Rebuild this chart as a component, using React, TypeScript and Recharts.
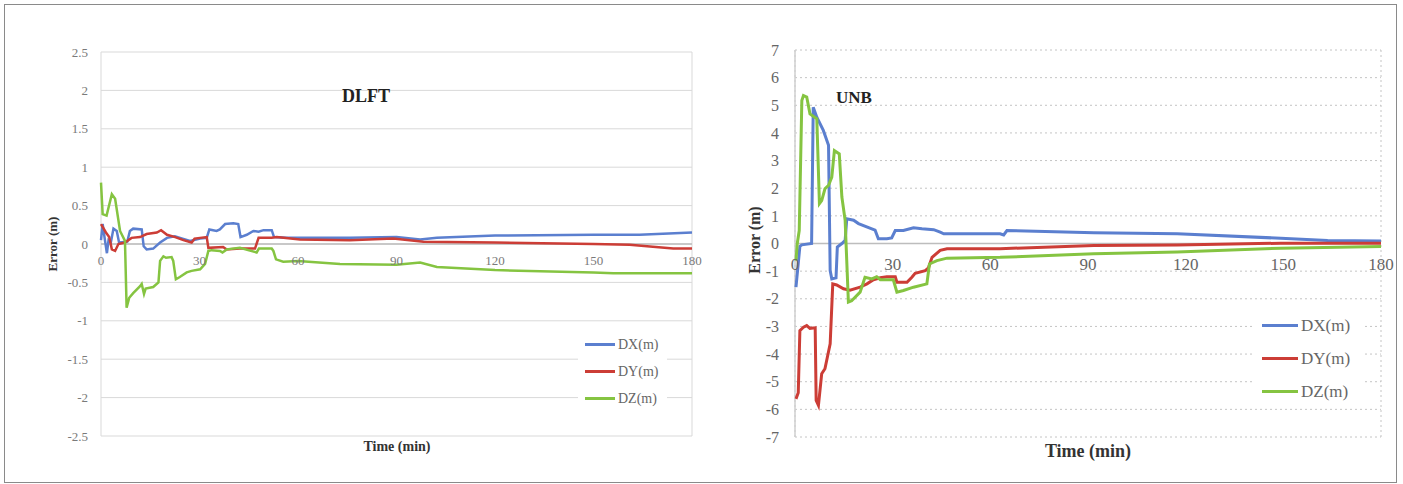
import React from 'react';
import { LineChart, Line, XAxis, YAxis, CartesianGrid, ReferenceLine, ReferenceDot, Legend } from 'recharts';

// DLFT (left panel)
const dlftTimeDX = [0, 0.5, 1.2, 1.8, 2.3, 3.0, 3.8, 4.8, 5.5, 8.0, 8.8, 9.8, 12.4, 13.0, 13.9, 15.9, 18.0, 20.1, 22.5, 24.1, 27.1, 30.2, 32.2, 33.0, 35.2, 36.2, 37.8, 40.3, 41.8, 42.5, 44.4, 46.4, 48.0, 49.5, 52.0, 52.7, 56.5, 75.8, 90, 97.2, 102.3, 120, 150, 164, 180];
const dlftDX = [0.05, 0.26, 0.05, -0.12, 0.05, 0.02, 0.2, 0.17, 0.02, 0.03, 0.17, 0.2, 0.19, -0.03, -0.07, -0.06, 0.02, 0.08, 0.1, 0.08, 0.04, 0.07, 0.08, 0.19, 0.17, 0.19, 0.26, 0.27, 0.26, 0.09, 0.12, 0.17, 0.16, 0.18, 0.18, 0.09, 0.08, 0.08, 0.09, 0.06, 0.08, 0.11, 0.12, 0.12, 0.15];
const dlftTimeDY = [0, 1.5, 2.5, 3.3, 4.3, 5.3, 7.3, 9.3, 11.9, 13.9, 17.0, 18.3, 20.1, 22.6, 25.1, 27.6, 28.5, 32.2, 32.7, 37.2, 38.2, 42.3, 46.9, 48.0, 52.0, 53.5, 60.6, 75.8, 89, 98.2, 120, 150, 161, 174.3, 180];
const dlftDY = [0.26, 0.15, 0.09, -0.07, -0.09, 0.0, 0.02, 0.08, 0.09, 0.13, 0.15, 0.18, 0.12, 0.09, 0.05, 0.02, 0.07, 0.09, -0.05, -0.04, -0.07, -0.06, -0.06, 0.08, 0.08, 0.09, 0.06, 0.05, 0.07, 0.03, 0.02, 0.0, -0.01, -0.06, -0.06];
const dlftTimeDZ = [0, 0.5, 1.7, 3.3, 4.3, 5.8, 7.3, 7.8, 8.6, 9.8, 11.9, 12.4, 13.1, 13.6, 15.9, 17.5, 18.0, 19.0, 19.8, 21.5, 22.0, 22.8, 24.0, 26.1, 27.6, 30.2, 31.7, 32.7, 33.7, 36.2, 37.0, 38.3, 42.3, 47.4, 48.1, 52.0, 52.5, 53.3, 55.5, 60, 72.8, 90, 97.2, 102.3, 120, 150, 156, 180];
const dlftDZ = [0.8, 0.39, 0.37, 0.65, 0.59, 0.17, 0.04, -0.83, -0.7, -0.64, -0.55, -0.52, -0.65, -0.58, -0.56, -0.5, -0.22, -0.16, -0.18, -0.17, -0.22, -0.46, -0.43, -0.37, -0.35, -0.33, -0.26, -0.09, -0.08, -0.09, -0.11, -0.07, -0.05, -0.11, -0.06, -0.06, -0.09, -0.2, -0.23, -0.22, -0.26, -0.27, -0.24, -0.3, -0.34, -0.37, -0.38, -0.38];

// UNB (right panel)
const unbTimeDX = [0.3, 1.5, 2.1, 5.1, 5.6, 6.7, 8.7, 10.3, 10.8, 11.3, 12.6, 13.0, 14.4, 15.4, 15.9, 18.0, 19.5, 23.6, 24.6, 25.6, 28.2, 29.7, 30.8, 33.3, 36.4, 39.0, 42.6, 44.6, 45.7, 63.0, 64.1, 65.1, 91.8, 117.4, 149.2, 163.6, 180];
const unbDX = [-1.58, -0.1, -0.05, 0.0, 4.93, 4.57, 4.09, 3.55, -0.98, -1.28, -1.24, -0.13, 0.0, 0.11, 0.89, 0.84, 0.72, 0.53, 0.48, 0.17, 0.17, 0.2, 0.47, 0.47, 0.57, 0.53, 0.5, 0.41, 0.35, 0.35, 0.31, 0.47, 0.39, 0.35, 0.19, 0.11, 0.09];
const unbTimeDY = [0.3, 1.0, 1.5, 2.6, 3.6, 4.6, 6.2, 6.5, 7.2, 8.2, 9.2, 10.8, 11.6, 12.8, 14.9, 16.9, 20.0, 22.1, 24.1, 26.2, 28.2, 30.8, 31.3, 34.4, 35.9, 36.9, 40.0, 41.0, 42.1, 44.6, 46.7, 63.0, 91.8, 117.4, 149.2, 180];
const unbDY = [-5.62, -5.4, -3.15, -3.03, -2.97, -3.07, -3.05, -5.68, -5.86, -4.71, -4.53, -3.63, -1.46, -1.5, -1.64, -1.69, -1.58, -1.46, -1.31, -1.24, -1.2, -1.2, -1.4, -1.4, -1.22, -1.08, -0.98, -0.88, -0.5, -0.25, -0.19, -0.19, -0.07, -0.05, 0.01, 0.01];
const unbTimeDZ = [0.3, 0.7, 1.3, 2.1, 2.6, 3.6, 4.6, 6.7, 7.5, 8.2, 9.2, 10.3, 11.3, 12.1, 13.6, 14.4, 15.4, 16.4, 17.4, 20.0, 21.5, 23.6, 25.1, 26.2, 30.2, 31.3, 33.3, 36.4, 40.5, 41.3, 43.6, 46.7, 63.0, 91.8, 117.4, 149.2, 180];
const unbDZ = [-0.62, 0.0, 0.47, 5.17, 5.35, 5.3, 4.69, 4.51, 1.44, 1.55, 1.98, 2.1, 2.4, 3.36, 3.24, 1.68, 0.84, -2.12, -2.07, -1.76, -1.22, -1.28, -1.2, -1.31, -1.31, -1.76, -1.7, -1.58, -1.46, -0.74, -0.62, -0.53, -0.5, -0.37, -0.31, -0.17, -0.11];

const timeTicks = [0, 30, 60, 90, 120, 150, 180];
const dlftTicks = [-2.5, -2, -1.5, -1, -0.5, 0, 0.5, 1, 1.5, 2, 2.5];
const unbTicks = [-7, -6, -5, -4, -3, -2, -1, 0, 1, 2, 3, 4, 5, 6, 7];
const seriesNames = ['DX(m)', 'DY(m)', 'DZ(m)'];
const COLORS = ['#5b7fcf', '#cc3d36', '#85c441'];

const FONT = '"Liberation Serif", "Times New Roman", serif';

const toPoints = (t: number[], v: number[]) => t.map((x, i) => ({ t: x, v: v[i] }));

const LegendBox = ({ lineW, fontSize, rowH, padTop }: { lineW: number; fontSize: number; rowH: number; padTop: number }) => (
  <div style={{ paddingTop: padTop, paddingLeft: 7, fontFamily: FONT }}>
    {seriesNames.map((name, i) => (
      <div key={name} style={{ display: 'flex', alignItems: 'center', height: rowH }}>
        <div style={{ width: lineW, height: 3, background: COLORS[i] }} />
        <span style={{ marginLeft: 3, fontSize, color: '#666', lineHeight: 1 }}>{name}</span>
      </div>
    ))}
  </div>
);

const App: React.FC = () => {
  const dlft = [toPoints(dlftTimeDX, dlftDX), toPoints(dlftTimeDY, dlftDY), toPoints(dlftTimeDZ, dlftDZ)];
  const unb = [toPoints(unbTimeDX, unbDX), toPoints(unbTimeDY, unbDY), toPoints(unbTimeDZ, unbDZ)];

  return (
    <div style={{ position: 'absolute', left: 0, top: 0, width: 1403, height: 484, background: '#fff' }}>
      <div style={{ position: 'absolute', left: 0, top: 0 }}>
        <LineChart width={715} height={484} margin={{ top: 52, right: 23, bottom: 48, left: 0 }}>
          <CartesianGrid stroke="#d9d9d9" />
          <XAxis type="number" dataKey="t" domain={[0, 180]} ticks={timeTicks} tick={false} tickLine={false} axisLine={false} height={0} />
          <YAxis type="number" domain={[-2.5, 2.5]} ticks={dlftTicks} interval={0} width={101} tickLine={false} axisLine={false} tickMargin={7}
            tick={{ fill: '#7a7a7a', fontSize: 13, fontFamily: FONT }} tickFormatter={(v: number) => String(v)} />
          <ReferenceLine y={0} stroke="#bdbdbd" strokeWidth={1.5} />
          {timeTicks.map((tk) => (
            <ReferenceDot key={tk} x={tk} y={0} r={0} stroke="none" fill="none"
              label={{ value: String(tk), position: 'bottom', offset: 12, fill: '#7a7a7a', fontSize: 13, fontFamily: FONT }} />
          ))}
          {dlft.map((d, i) => (
            <Line key={seriesNames[i]} data={d} dataKey="v" name={seriesNames[i]} type="linear" stroke={COLORS[i]} strokeWidth={2.5} dot={false} isAnimationActive={false} />
          ))}
          <Legend layout="vertical" align="center" verticalAlign="middle"
            wrapperStyle={{ left: 578, top: 323, width: 89, height: 90, background: '#fff' }}
            content={() => <LegendBox lineW={30} fontSize={14} rowH={27} padTop={8} />} />
        </LineChart>
      </div>

      <div style={{ position: 'absolute', left: 700, top: 0 }}>
        <LineChart width={703} height={484} margin={{ top: 50, right: 22, bottom: 47, left: 0 }}>
          <CartesianGrid stroke="#c4c4c4" strokeDasharray="2 3" />
          <XAxis type="number" dataKey="t" domain={[0, 180]} ticks={timeTicks} tick={false} tickLine={false} axisLine={false} height={0} />
          <YAxis type="number" domain={[-7, 7]} ticks={unbTicks} interval={0} width={95} tickLine={false} axisLine={false} tickMargin={10}
            tick={{ fill: '#666', fontSize: 16, fontFamily: FONT }} tickFormatter={(v: number) => String(v)} />
          <ReferenceLine y={0} stroke="#bdbdbd" strokeWidth={1.5} />
          <ReferenceLine x={0} stroke="#cfcfcf" strokeWidth={1.5} />
          {timeTicks.map((tk) => (
            <ReferenceDot key={tk} x={tk} y={0} r={0} stroke="none" fill="none"
              label={{ value: String(tk), position: 'bottom', offset: 14, fill: '#666', fontSize: 17, fontFamily: FONT }} />
          ))}
          {unb.map((d, i) => (
            <Line key={seriesNames[i]} data={d} dataKey="v" name={seriesNames[i]} type="linear" stroke={COLORS[i]} strokeWidth={3} dot={false} isAnimationActive={false} />
          ))}
          <Legend layout="vertical" align="center" verticalAlign="middle"
            wrapperStyle={{ left: 555, top: 308, width: 108, height: 95, background: '#fff' }}
            content={() => <LegendBox lineW={36} fontSize={17} rowH={33} padTop={1} />} />
        </LineChart>
      </div>

      <svg width={1403} height={484} style={{ position: 'absolute', left: 0, top: 0, pointerEvents: 'none' }}>
        <rect x={4.5} y={4.5} width={1392} height={478} fill="none" stroke="#8a8a8a" />
        <text x={366} y={102} textAnchor="middle" fontFamily={FONT} fontWeight="bold" fontSize={18} fill="#222">DLFT</text>
        <text x={854} y={103} textAnchor="middle" fontFamily={FONT} fontWeight="bold" fontSize={17} fill="#222">UNB</text>
        <text x={397} y={451} textAnchor="middle" fontFamily={FONT} fontWeight="bold" fontSize={14} fill="#333">Time (min)</text>
        <text x={1088} y={457} textAnchor="middle" fontFamily={FONT} fontWeight="bold" fontSize={18} fill="#333">Time (min)</text>
        <text transform="translate(57,244) rotate(-90)" textAnchor="middle" fontFamily={FONT} fontWeight="bold" fontSize={13} fill="#333">Error (m)</text>
        <text transform="translate(760,240) rotate(-90)" textAnchor="middle" fontFamily={FONT} fontWeight="bold" fontSize={16} fill="#333">Error (m)</text>
      </svg>
    </div>
  );
};

export default App;
